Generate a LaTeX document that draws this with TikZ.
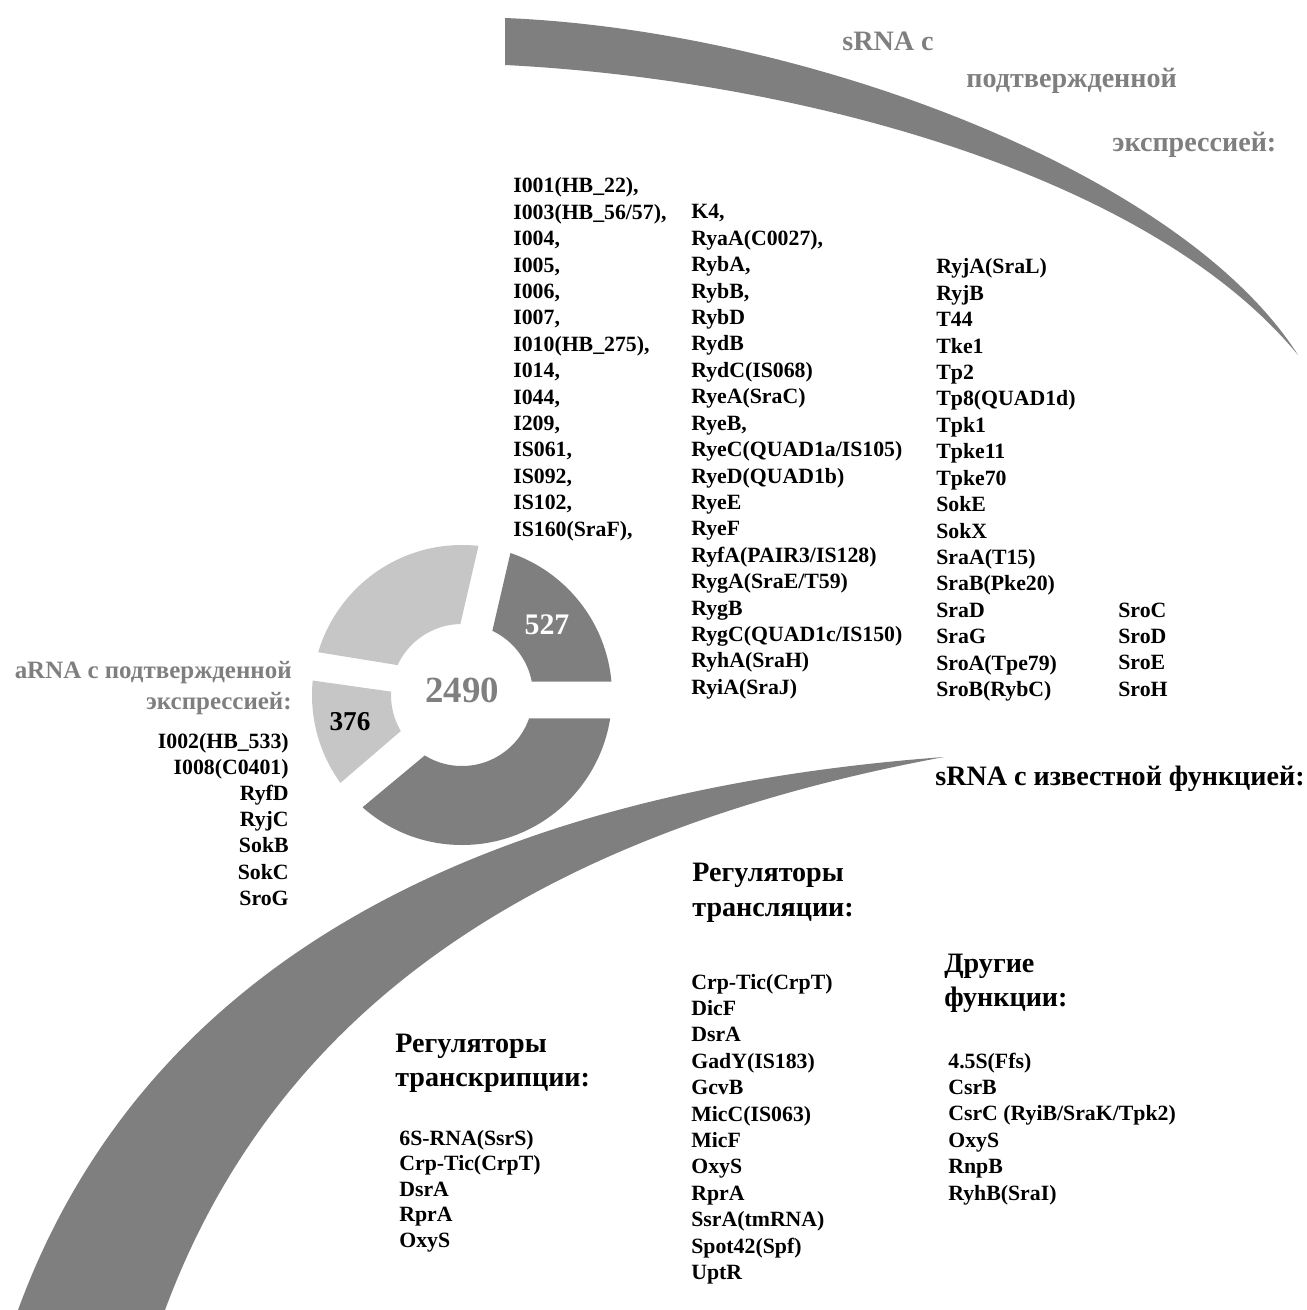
\documentclass[tikz,border=0pt]{standalone}
\usepackage{fontspec}
\setmainfont{Liberation Serif}
\usetikzlibrary{calc}
\definecolor{darkgr}{HTML}{7F7F7F}
\definecolor{lightgr}{HTML}{C6C6C6}

\begin{document}
\begin{tikzpicture}[x=0.02cm,y=-0.02cm,
  item/.style={font=\fontsize{12.4}{15}\selectfont\bfseries,inner sep=0pt,anchor=base west},
  itemr/.style={item,anchor=base east},
  head/.style={font=\fontsize{16}{19}\selectfont\bfseries,inner sep=0pt,anchor=base west},
  grayhead/.style={head,text=darkgr},
  num/.style={font=\fontsize{#1}{#1}\selectfont\bfseries,inner sep=0pt}]
\useasboundingbox (0,0) rectangle (1306,1310);
% swooshes
\fill[darkgr] (505,18) .. controls (800,30) and (1180,170) .. (1298,355)
  .. controls (1150,175) and (800,80) .. (505,65) -- cycle;
\fill[darkgr] (944,757) .. controls (500,790) and (150,950) .. (18,1310)
  -- (165,1310) .. controls (280,1000) and (550,830) .. (944,757) -- cycle;
% doughnut
\coordinate (c) at (462,695);
\begin{scope}
\clip (480.5,681.7) -- (546,400) -- (700,400) -- (700,681.7) -- cycle;
\fill[darkgr,even odd rule] (c) circle[radius=150] (c) circle[radius=71];
\end{scope}
\begin{scope}
\clip (448.9,673.5) -- (150,624.8) -- (150,400) -- (512.3,400) -- cycle;
\fill[lightgr,even odd rule] (c) circle[radius=150] (c) circle[radius=71];
\end{scope}
\begin{scope}
\clip (438.7,698.4) -- (150,657.4) -- (150,946.7) -- cycle;
\fill[lightgr,even odd rule] (c) circle[radius=150] (c) circle[radius=71];
\end{scope}
\begin{scope}
\clip (469.4,718.3) -- (700,718.3) -- (700,1000) -- (131,1000) -- cycle;
\fill[darkgr,even odd rule] (c) circle[radius=150] (c) circle[radius=71];
\end{scope}
\node[num=17,text=white] (n527) at (547,625) {527};
\node[num=21,text=darkgr] (ntotal) at (462,690) {2490};
\node[num=15.5] (n376) at (350,722) {376};
% headings
\node[grayhead] (hconf1) at (842,51) {sRNA с};
\node[grayhead] (hconf2) at (966,88) {подтвержденной};
\node[grayhead] (hconf3) at (1112,152) {экспрессией:};
\node[grayhead,font=\fontsize{14.2}{17}\selectfont\bfseries,anchor=base east] (harna1) at (292,678) {aRNA с подтвержденной};
\node[grayhead,font=\fontsize{14.2}{17}\selectfont\bfseries,anchor=base east] (harna2) at (292,709) {экспрессией:};
\node[head] (hfunc) at (935,785) {sRNA с известной функцией:};
\node[head] (htransl1) at (692,881) {Регуляторы};
\node[head] (htransl2) at (692,916) {трансляции:};
\node[head] (hother1) at (944,972) {Другие};
\node[head] (hother2) at (944,1006) {функции:};
\node[head] (htransc1) at (395,1052) {Регуляторы};
\node[head] (htransc2) at (395,1086) {транскрипции:};
% lists
\foreach \t [count=\i from 0] in {{I001(HB\_22),},{I003(HB\_56/57),},{I004,},{I005,},{I006,},{I007,},
  {I010(HB\_275),},{I014,},{I044,},{I209,},{IS061,},{IS092,},{IS102,},{IS160(SraF),}}
  \node[item] (ca\i) at (513,{193+26.4*\i}) {\t};
\foreach \t [count=\i from 0] in {{K4,},{RyaA(C0027),},{RybA,},{RybB,},RybD,RydB,RydC(IS068),RyeA(SraC),
  {RyeB,},RyeC(QUAD1a/IS105),RyeD(QUAD1b),RyeE,RyeF,RyfA(PAIR3/IS128),RygA(SraE/T59),RygB,
  RygC(QUAD1c/IS150),RyhA(SraH),RyiA(SraJ)}
  \node[item] (cb\i) at (691,{219+26.4*\i}) {\t};
\foreach \t [count=\i from 0] in {RyjA(SraL),RyjB,T44,Tke1,Tp2,Tp8(QUAD1d),Tpk1,Tpke11,Tpke70,SokE,SokX,
  SraA(T15),SraB(Pke20),SraD,SraG,SroA(Tpe79),SroB(RybC)}
  \node[item] (cc\i) at (936,{274+26.4*\i}) {\t};
\foreach \t [count=\i from 0] in {SroC,SroD,SroE,SroH}
  \node[item] (cd\i) at (1118,{617+26.4*\i}) {\t};
\foreach \t [count=\i from 0] in {I002(HB\_533),I008(C0401),RyfD,RyjC,SokB,SokC,SroG}
  \node[itemr] (ar\i) at (289,{748+26.2*\i}) {\t};
\foreach \t [count=\i from 0] in {Crp-Tic(CrpT),DicF,DsrA,GadY(IS183),GcvB,MicC(IS063),MicF,OxyS,RprA,
  SsrA(tmRNA),Spot42(Spf),UptR}
  \node[item] (tl\i) at (691,{989+26.4*\i}) {\t};
\foreach \t [count=\i from 0] in {4.5S(Ffs),CsrB,CsrC (RyiB/SraK/Tpk2),OxyS,RnpB,RyhB(SraI)}
  \node[item] (ot\i) at (948,{1068+26.4*\i}) {\t};
\foreach \t [count=\i from 0] in {6S-RNA(SsrS),Crp-Tic(CrpT),DsrA,RprA,OxyS}
  \node[item] (tc\i) at (399,{1145+25.5*\i}) {\t};
\end{tikzpicture}
\end{document}
